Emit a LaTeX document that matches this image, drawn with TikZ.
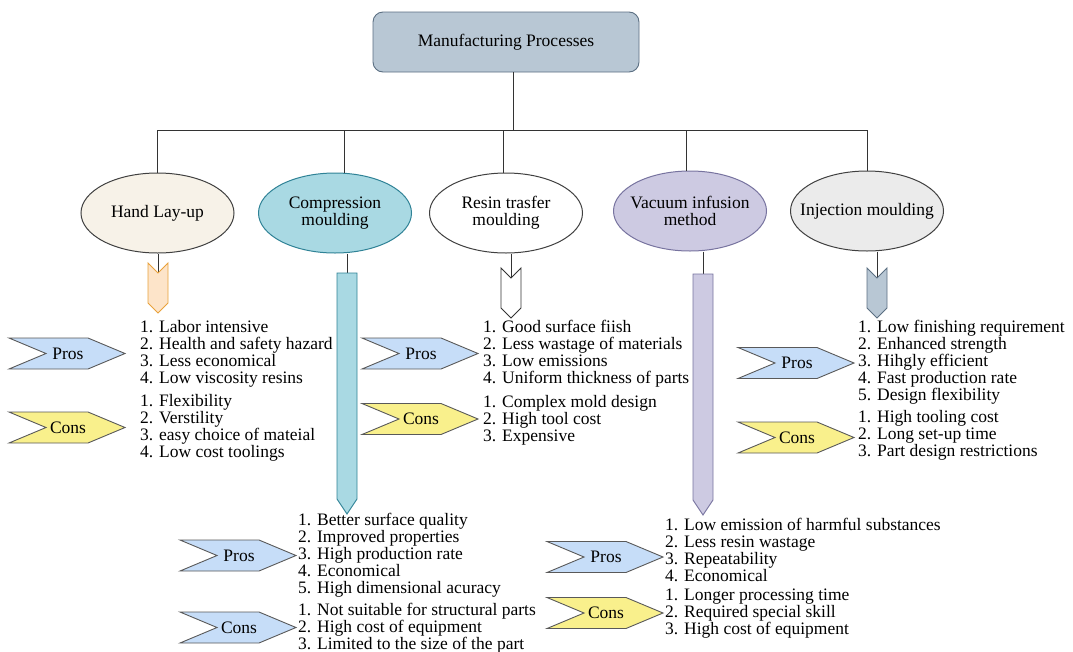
\documentclass[tikz,border=0pt]{standalone}
\usepackage{fontspec}
\setmainfont{Liberation Serif}
\usepackage{tikz}
\usetikzlibrary{shapes.geometric}

\definecolor{titlefill}{HTML}{B8C7D4}
\definecolor{titleline}{HTML}{5B6F82}
\definecolor{handfill}{HTML}{F7F2E8}
\definecolor{compfill}{HTML}{A9D9E3}
\definecolor{compline}{HTML}{2F8296}
\definecolor{vacfill}{HTML}{CDCAE2}
\definecolor{vacline}{HTML}{77739F}
\definecolor{injfill}{HTML}{EBEBEB}
\definecolor{handarrow}{HTML}{FDE4C9}
\definecolor{handline}{HTML}{E9A23B}
\definecolor{prosfill}{HTML}{C6DDF8}
\definecolor{consfill}{HTML}{F9F08C}

\tikzset{
  txt/.style={font=\fontsize{17.5}{17}\selectfont},
  proc/.style={ellipse, draw=black!75, line width=1, minimum width=153,
    minimum height=80, inner sep=0, align=center, txt},
  list/.style={anchor=west, align=left, inner sep=0, txt},
  tagline/.style={draw=black!65, line width=0.9},
  link/.style={draw=black!80, line width=0.9},
}

% pros / cons tag: name, left x, centre y, fill, label
\newcommand{\pcbox}[5]{
  \draw[tagline, fill=#4] (#2,#3-15.5) -- (#2+79,#3-15.5) -- (#2+116,#3)
    -- (#2+79,#3+15.5) -- (#2,#3+15.5) -- (#2+37,#3) -- cycle;
  \node[txt, inner sep=0] (#1) at (#2+59,#3) {#5};
}
% short arrow with a notch: x, top y, style
\newcommand{\notcharrow}[3]{
  \draw[#3] (#1-10,#2) -- (#1,#2+10) -- (#1+10,#2) -- (#1+10,#2+40)
    -- (#1,#2+50) -- (#1-10,#2+40) -- cycle;
}

\begin{document}
\begin{tikzpicture}[x=1pt,y=-1pt]
  \useasboundingbox (0,0) rectangle (1073,651);

  \node[draw=titleline, fill=titlefill, rounded corners=10, minimum width=266,
    minimum height=60, line width=0.9, txt] (title) at (506,42) {Manufacturing Processes};

  \node[proc, fill=handfill] (hand) at (157.5,213) {Hand Lay-up};
  \node[proc, fill=compfill, draw=compline] (comp) at (335,213) {Compression\\moulding};
  \node[proc, fill=white] (resin) at (506,213) {Resin trasfer\\moulding};
  \node[proc, fill=vacfill, draw=vacline, inner xsep=-7] (vac) at (690,211) {Vacuum infusion\\method};
  \node[proc, fill=injfill, inner xsep=-14] (inj) at (867,211) {Injection moulding};

  % tree
  \coordinate (bus) at (0,130);
  \path ([xshift=7]title.south) coordinate (root);
  \draw[link] (root) -- (root |- bus);
  \draw[link] (hand.north) |- (bus -| inj.north) -- (inj.north);
  \foreach \n/\dx in {comp/9,resin/-3,vac/-4} {
    \path ([xshift=\dx]\n.north) coordinate (top-\n);
    \draw[link] (top-\n) -- (top-\n |- bus);
  }

  % arrows below the processes
  \coordinate (hand-in) at (158,273);
  \coordinate (comp-in) at (347,273);
  \coordinate (resin-in) at (511,278);
  \coordinate (vac-in) at (703,274);
  \coordinate (inj-in) at (877,277);
  \draw[link] (hand.south -| hand-in) -- (hand-in);
  \draw[link] (comp.south -| comp-in) -- (comp-in);
  \draw[link] (resin.south -| resin-in) -- (resin-in);
  \draw[link] (vac.south -| vac-in) -- (vac-in);
  \draw[link] (inj.south -| inj-in) -- (inj-in);

  \notcharrow{158}{263}{draw=handline, fill=handarrow, line width=0.9}
  \notcharrow{511}{268}{draw=black!80, fill=white, line width=0.9}
  \notcharrow{877}{268}{draw=titleline, fill=titlefill, line width=0.9}
  \draw[draw=compline, fill=compfill, line width=0.9]
    (337,273) -- (357,273) -- (357,499) -- (347,514) -- (337,499) -- cycle;
  \draw[draw=vacline, fill=vacfill, line width=0.9]
    (693,274) -- (713,274) -- (713,500) -- (703,515) -- (693,500) -- cycle;

  % hand lay-up
  \pcbox{hand-pros}{9}{353.5}{prosfill}{Pros}
  \pcbox{hand-cons}{9}{427.5}{consfill}{Cons}
  \node[list] (hand-plist) at (140,353.5) {1. Labor intensive\\2. Health and safety hazard\\3. Less economical\\4. Low viscosity resins};
  \node[list] (hand-clist) at (140,427.5) {1. Flexibility\\2. Verstility\\3. easy choice of mateial\\4. Low cost toolings};

  % resin transfer
  \pcbox{resin-pros}{362}{353.5}{prosfill}{Pros}
  \pcbox{resin-cons}{362}{419}{consfill}{Cons}
  \node[list] (resin-plist) at (483,353.5) {1. Good surface fiish\\2. Less wastage of materials\\3. Low emissions\\4. Uniform thickness of parts};
  \node[list] (resin-clist) at (483,420.5) {1. Complex mold design\\2. High tool cost\\3. Expensive};

  % injection
  \pcbox{inj-pros}{738}{363}{prosfill}{Pros}
  \pcbox{inj-cons}{738}{437.5}{consfill}{Cons}
  \node[list] (inj-plist) at (858,362) {1. Low finishing requirement\\2. Enhanced strength\\3. Hihgly efficient\\4. Fast production rate\\5. Design flexibility};
  \node[list] (inj-clist) at (858,435.5) {1. High tooling cost\\2. Long set-up time\\3. Part design restrictions};

  % compression
  \pcbox{comp-pros}{180}{555.5}{prosfill}{Pros}
  \pcbox{comp-cons}{180}{627.5}{prosfill}{Cons}
  \node[list] (comp-plist) at (298,555.5) {1. Better surface quality\\2. Improved properties\\3. High production rate\\4. Economical\\5. High dimensional acuracy};
  \node[list] (comp-clist) at (298,628) {1. Not suitable for structural parts\\2. High cost of equipment\\3. Limited to the size of the part};

  % vacuum infusion
  \pcbox{vac-pros}{547}{557}{prosfill}{Pros}
  \pcbox{vac-cons}{547}{613}{consfill}{Cons}
  \node[list] (vac-plist) at (665,549.5) {1. Low emission of harmful substances\\2. Less resin wastage\\3. Repeatability\\4. Economical};
  \node[list] (vac-clist) at (665,614) {1. Longer processing time\\2. Required special skill\\3. High cost of equipment};
\end{tikzpicture}
\end{document}
